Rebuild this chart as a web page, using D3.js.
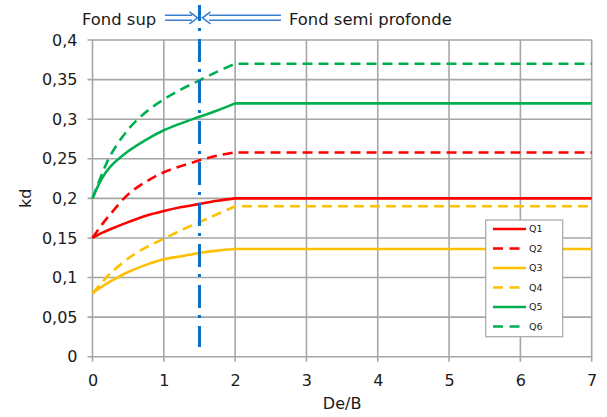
<!DOCTYPE html>
<html><head><meta charset="utf-8">
<script src="https://cdn.jsdelivr.net/npm/d3@7"></script>
<style>body{margin:0;background:#fff}svg{display:block}text{font-family:"DejaVu Sans",sans-serif;fill:#1a1a1a}</style>
</head><body><svg id="c" width="607" height="417"></svg>
<script>
const xs = [0,0.125,0.25,0.5,0.75,1,1.25,1.5,1.75,2,7];
const q1 = [0.15,0.156,0.161,0.170,0.178,0.184,0.189,0.193,0.197,0.2,0.2];
const q2 = [0.15,0.166,0.180,0.205,0.221,0.233,0.241,0.248,0.254,0.258,0.258];
const q3 = [0.08,0.088,0.095,0.107,0.116,0.123,0.127,0.131,0.134,0.136,0.136];
const q4 = [0.08,0.093,0.105,0.124,0.138,0.149,0.160,0.170,0.180,0.19,0.19];
const q5 = [0.2,0.224,0.240,0.2595,0.274,0.286,0.295,0.303,0.311,0.32,0.32];
const q6 = [0.2,0.229,0.254,0.287,0.309,0.325,0.338,0.349,0.36,0.37,0.37];
const seriesNames = ["Q1","Q2","Q3","Q4","Q5","Q6"];
const seriesVals = [q1,q2,q3,q4,q5,q6];
const seriesColors = ["#ff0000","#ff0000","#ffc000","#ffc000","#00b050","#00b050"];
const seriesDashed = [false,true,false,true,false,true];
const xTicks = [0,1,2,3,4,5,6,7];
const yTicks = [0,0.05,0.1,0.15,0.2,0.25,0.3,0.35,0.4];
const yTickLabels = ["0","0,05","0,1","0,15","0,2","0,25","0,3","0,35","0,4"];
const boundaryX = 1.5;
const leftLabel = "Fond sup", rightLabel = "Fond semi profonde";
const xTitle = "De/B", yTitle = "kd";

const svg = d3.select("#c");
const x = d3.scaleLinear().domain([0,7]).range([92.5,591.7]);
const y = d3.scaleLinear().domain([0,0.4]).range([356.7,40]);
const grid = "#a6a6a6";

// grid
const g = svg.append("g");
g.selectAll("line.v").data(xTicks).join("line")
  .attr("x1",d=>x(d)).attr("x2",d=>x(d)).attr("y1",y(0.4)).attr("y2",y(0)+5)
  .attr("stroke",grid).attr("stroke-width",1.6);
g.selectAll("line.h").data(yTicks).join("line")
  .attr("y1",d=>y(d)).attr("y2",d=>y(d)).attr("x1",x(0)-5).attr("x2",x(7))
  .attr("stroke",grid).attr("stroke-width",1.6);

// axes labels via d3 axes
const ax = svg.append("g").attr("transform",`translate(0,${y(0)})`)
  .call(d3.axisBottom(x).tickValues(xTicks).tickSize(0).tickPadding(18).tickFormat(d3.format("d")));
ax.select(".domain").remove();
ax.selectAll("text").attr("font-size",16).attr("font-family","DejaVu Sans").attr("fill","#1a1a1a");
const ay = svg.append("g").attr("transform",`translate(${x(0)},0)`)
  .call(d3.axisLeft(y).tickValues(yTicks).tickSize(0).tickPadding(15).tickFormat((d,i)=>yTickLabels[i]));
ay.select(".domain").remove();
ay.selectAll("text").attr("font-size",16).attr("font-family","DejaVu Sans").attr("fill","#1a1a1a");

// series
const curve = d3.line().x(d=>x(d[0])).y(d=>y(d[1])).curve(d3.curveCatmullRom.alpha(0.5));
seriesVals.forEach((vals,i)=>{
  const pts = xs.map((xv,j)=>[xv,vals[j]]);
  const head = pts.filter(p=>p[0]<=2);
  const tail = pts.filter(p=>p[0]>2);
  let d = curve(head);
  tail.forEach(p=>{ d += "L"+x(p[0])+","+y(p[1]); });
  svg.append("path").attr("d",d).attr("fill","none")
    .attr("stroke",seriesColors[i]).attr("stroke-width",2.6)
    .attr("stroke-dasharray",seriesDashed[i]?"10,6":null);
});

// boundary line
svg.append("line").attr("x1",x(boundaryX)).attr("x2",x(boundaryX)).attr("y1",5).attr("y2",347)
  .attr("stroke","#0a70c4").attr("stroke-width",3).attr("stroke-dasharray","23,7,3,8").attr("stroke-dashoffset",7);

// arrows
const ac = "#3b7fcf";
const arr = svg.append("g").attr("fill","none").attr("stroke",ac).attr("stroke-width",1.6);
arr.append("path").attr("d",`M165,15.2H192M165,20.3H192M189.5,11.8L197.5,17.8L189.5,23.8`);
arr.append("path").attr("d",`M281,15.2H209M281,20.3H209M210.5,11.8L202.5,17.8L210.5,23.8`);

svg.append("text").attr("x",82).attr("y",25).attr("font-size",16.4).text(leftLabel);
svg.append("text").attr("x",289).attr("y",25).attr("font-size",16.4).text(rightLabel);

svg.append("text").attr("x",(x(0)+x(7))/2).attr("y",409).attr("text-anchor","middle").attr("font-size",16).text(xTitle);
svg.append("text").attr("transform",`translate(31,${(y(0)+y(0.4))/2}) rotate(-90)`).attr("text-anchor","middle").attr("font-size",16).text(yTitle);

// legend
const lg = svg.append("g");
lg.append("rect").attr("x",485.7).attr("y",220).attr("width",77).attr("height",116.7)
  .attr("fill","#fff").attr("stroke","#a6a6a6").attr("stroke-width",1.2);
seriesNames.forEach((n,i)=>{
  const yy = 229 + i*19.5;
  lg.append("line").attr("x1",493).attr("x2",526).attr("y1",yy).attr("y2",yy)
    .attr("stroke",seriesColors[i]).attr("stroke-width",2.4)
    .attr("stroke-dasharray",seriesDashed[i]?"10,6.5":null);
  lg.append("text").attr("x",529).attr("y",yy).attr("dy","0.35em").attr("font-size",9.5).text(n);
});
</script></body></html>
